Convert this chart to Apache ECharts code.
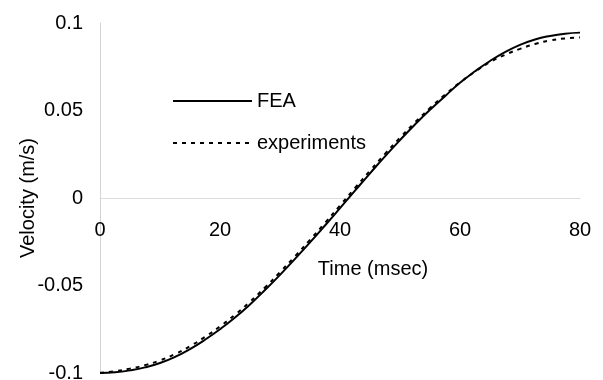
<!DOCTYPE html>
<html>
<head>
<meta charset="UTF-8">
<title>Velocity</title>
<script src="https://cdn.jsdelivr.net/npm/echarts@6/dist/echarts.min.js"></script>
<style>
  html, body { margin: 0; padding: 0; background: #fff; }
  #main { width: 603px; height: 380px; }
</style>
</head>
<body>
<div id="main"></div>
<script>
// time in msec
var time = [0, 2.5, 5, 7.5, 10, 12.5, 15, 17.5, 20, 22.5, 25, 27.5, 30, 32.5, 35, 37.5,
            40, 42.5, 45, 47.5, 50, 52.5, 55, 57.5, 60, 62.5, 65, 67.5, 70, 72.5, 75, 77.5, 80];
// velocity m/s
var fea = [-0.1000, -0.0996, -0.0985, -0.0968, -0.0943, -0.0908, -0.0863, -0.0810, -0.0750, -0.0683,
           -0.0608, -0.0526, -0.0439, -0.0348, -0.0254, -0.0157, -0.0058, 0.0042, 0.0141, 0.0238,
           0.0331, 0.0420, 0.0504, 0.0582, 0.0658, 0.0724, 0.0783, 0.0834, 0.0875, 0.0906, 0.0926, 0.0939, 0.0945];
var experiments = [-0.0998, -0.0990, -0.0975, -0.0955, -0.0928, -0.0892, -0.0847, -0.0794, -0.0734, -0.0667,
                   -0.0593, -0.0511, -0.0424, -0.0333, -0.0239, -0.0142, -0.0043, 0.0057, 0.0156, 0.0252,
                   0.0344, 0.0432, 0.0514, 0.0590, 0.0660, 0.0722, 0.0776, 0.0818, 0.0852, 0.0880, 0.0900, 0.0912, 0.0918];
var xTicks = [0, 20, 40, 60, 80];
var yTicks = [-0.1, -0.05, 0, 0.05, 0.1];

function pairs(xs, ys) {
  var out = [];
  for (var i = 0; i < xs.length; i++) out.push([xs[i], ys[i]]);
  return out;
}

var chart = echarts.init(document.getElementById('main'));
var font = 'Liberation Sans, Arial, sans-serif';

chart.setOption({
  animation: false,
  backgroundColor: '#fff',
  textStyle: { fontFamily: font, color: '#000' },
  grid: { left: 100, right: 23, top: 23, bottom: 7, outerBoundsMode: 'none', containLabel: false },
  legend: {
    orient: 'vertical',
    left: 167,
    top: 86,
    itemWidth: 79,
    itemHeight: 14,
    itemGap: 22,
    itemStyle: { opacity: 0 },
    textStyle: { fontSize: 20, color: '#000', fontFamily: font },
    data: ['FEA', 'experiments']
  },
  xAxis: {
    type: 'value',
    min: xTicks[0],
    max: xTicks[xTicks.length - 1],
    interval: 20,
    offset: -175,
    name: 'Time (msec)',
    nameLocation: 'middle',
    nameGap: 61,
    nameMoveOverlap: false,
    nameTextStyle: { fontSize: 20, color: '#000', padding: [0, 0, 0, 66] },
    axisLine: { onZero: false, lineStyle: { color: '#dcdcdc', width: 1 } },
    axisTick: { show: false },
    axisLabel: { margin: 22, fontSize: 20, color: '#000' },
    splitLine: { show: false }
  },
  yAxis: {
    type: 'value',
    min: yTicks[0],
    max: yTicks[yTicks.length - 1],
    interval: 0.05,
    name: 'Velocity (m/s)',
    nameLocation: 'middle',
    nameGap: 62,
    nameMoveOverlap: false,
    nameTextStyle: { fontSize: 20, color: '#000' },
    axisLine: { lineStyle: { color: '#d4d4d4', width: 1 } },
    axisTick: { show: false },
    axisLabel: { margin: 17, fontSize: 20, color: '#000' },
    splitLine: { show: false }
  },
  series: [
    {
      name: 'FEA',
      type: 'line',
      smooth: true,
      symbol: 'none',
      data: pairs(time, fea),
      lineStyle: { color: '#000', width: 2 },
      itemStyle: { color: '#000' },
      z: 3
    },
    {
      name: 'experiments',
      type: 'line',
      smooth: true,
      symbol: 'none',
      data: pairs(time, experiments),
      lineStyle: { color: '#000', width: 2, type: [4, 5] },
      itemStyle: { color: '#000' },
      z: 2
    }
  ]
});
</script>
</body>
</html>
